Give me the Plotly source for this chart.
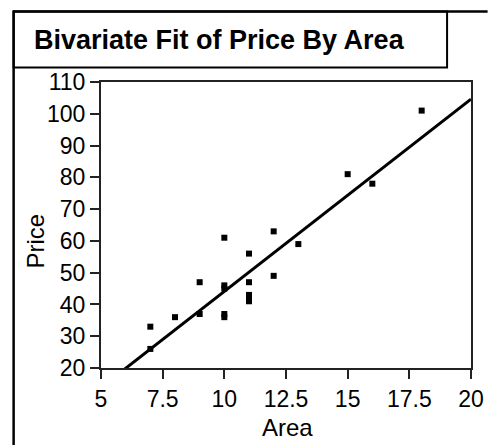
import plotly.graph_objects as go
import numpy as np

# Data
area = [7, 7, 8, 9, 9, 10, 10, 10, 10, 10, 11, 11, 11, 11, 11, 12, 12, 13, 15, 16, 18]
price = [33, 26, 36, 47, 37, 61, 46, 45, 37, 36, 56, 47, 43, 42, 41, 63, 49, 59, 81, 78, 101]

# Fitted line
fit_intercept = -16.4
fit_slope = 6.05

x_ticks = [5, 7.5, 10, 12.5, 15, 17.5, 20]
x_tick_labels = ["5", "7.5", "10", "12.5", "15", "17.5", "20"]
y_ticks = [20, 30, 40, 50, 60, 70, 80, 90, 100, 110]

title_text = "Bivariate Fit of Price By Area"

W, H = 496, 445
L, R, T, B = 101, 16, 82, 77
pw, ph = W - L - R, H - T - B

def px(x):
    return (x - L) / pw

def py(y):
    return (H - B - y) / ph

FONT = "Arial, Liberation Sans, sans-serif"

fit_x = np.array([x_ticks[0], x_ticks[-1]], dtype=float)
fit_y = fit_intercept + fit_slope * fit_x

fig = go.Figure()
fig.add_trace(go.Scatter(x=fit_x, y=fit_y, mode="lines",
                         line=dict(color="black", width=3), hoverinfo="skip"))
fig.add_trace(go.Scatter(x=area, y=price, mode="markers",
                         marker=dict(symbol="square", size=6, color="black")))

axis_common = dict(showgrid=False, zeroline=False, showline=True, linecolor="#222",
                   linewidth=2, mirror=True, ticks="outside", ticklen=9, tickwidth=1.5,
                   tickcolor="#222", tickfont=dict(family=FONT, size=23, color="black"))

fig.update_xaxes(range=[5, 20], tickvals=x_ticks, ticktext=x_tick_labels, **axis_common)
fig.update_yaxes(range=[20, 110], tickvals=y_ticks, **axis_common)

shapes = [
    # outer frame: left and top lines
    dict(type="line", xref="paper", yref="paper", x0=px(11.5), x1=px(11.5), y0=py(10.5), y1=py(446),
         line=dict(color="black", width=2.5)),
    dict(type="line", xref="paper", yref="paper", x0=px(11), x1=px(497), y0=py(11.5), y1=py(11.5),
         line=dict(color="black", width=2.5)),
    # title box
    dict(type="rect", xref="paper", yref="paper", x0=px(11.5), x1=px(455.5), y0=py(11.5), y1=py(67.5),
         line=dict(color="black", width=2)),
]

fig.update_layout(
    width=W, height=H,
    margin=dict(l=L, r=R, t=T, b=B),
    paper_bgcolor="white", plot_bgcolor="white",
    showlegend=False,
    shapes=shapes,
    annotations=[
        dict(text="<b>" + title_text + "</b>", xref="paper", yref="paper",
             x=px(30), y=py(39.5), xanchor="left", yanchor="middle", showarrow=False,
             font=dict(family=FONT, size=27, color="black")),
        dict(text="Area", xref="paper", yref="paper", x=px(292), y=py(427),
             xanchor="center", yanchor="middle", showarrow=False,
             font=dict(family=FONT, size=24, color="black")),
        dict(text="Price", xref="paper", yref="paper", x=px(33), y=py(241),
             xanchor="center", yanchor="middle", showarrow=False, textangle=-90,
             font=dict(family=FONT, size=24, color="black")),
    ],
)

fig.write_html("out.html")
